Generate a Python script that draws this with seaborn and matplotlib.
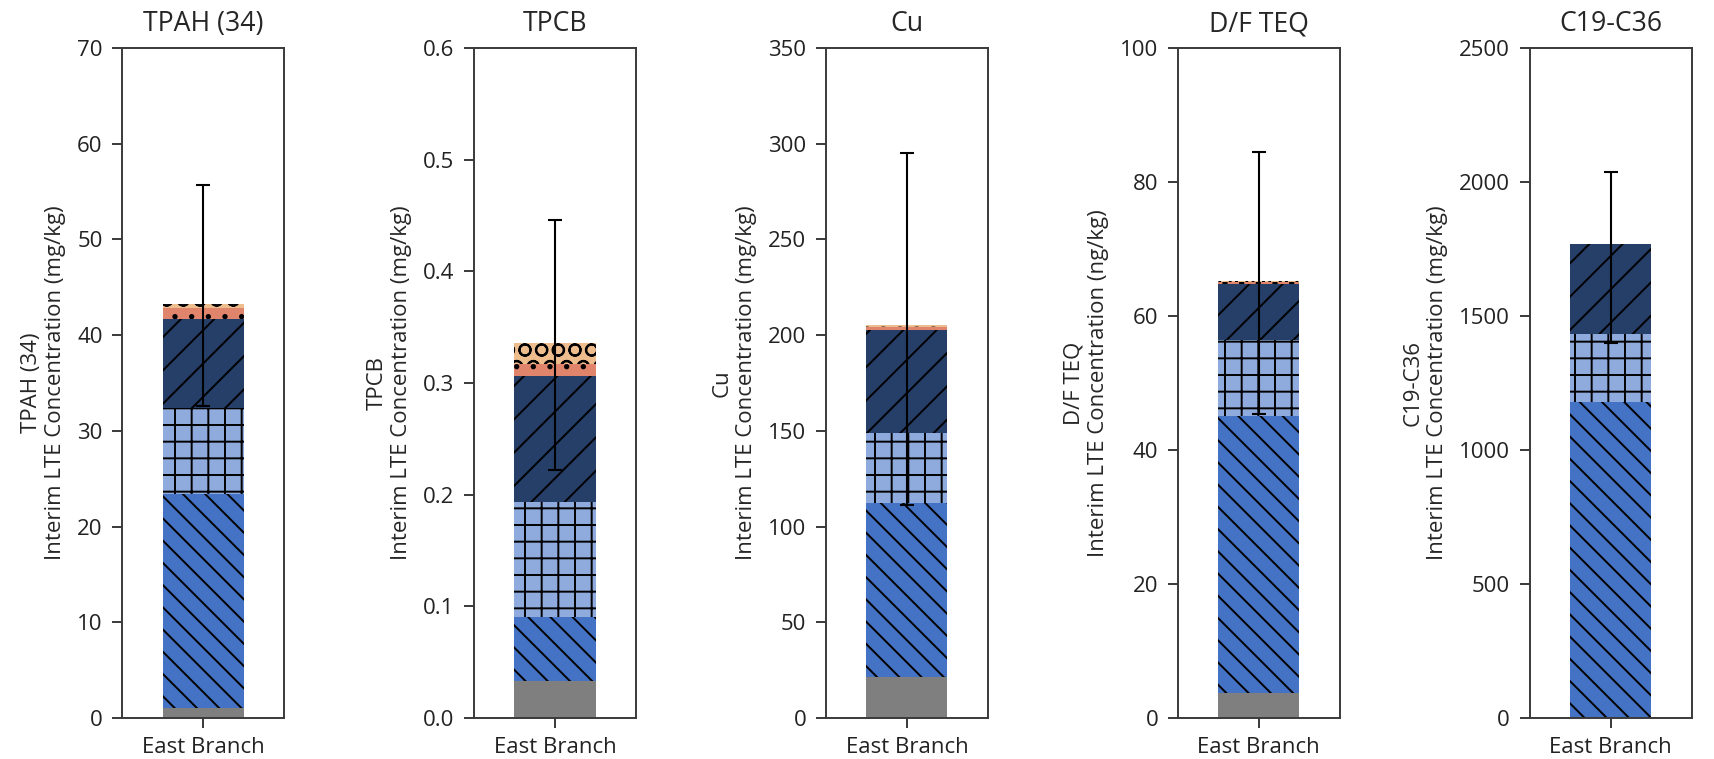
import numpy as np
import matplotlib
matplotlib.use("Agg")
import matplotlib.pyplot as plt
import seaborn as sns

# analytes, one panel each
titles = ["TPAH (34)", "TPCB", "Cu", "D/F TEQ", "C19-C36"]
units = ["mg/kg", "mg/kg", "mg/kg", "ng/kg", "mg/kg"]
y_max = [70, 0.6, 350, 100, 2500]
y_step = [10, 0.1, 50, 20, 500]
category = ["East Branch"]

# stacked segment values (bottom -> top) for each panel
seg_gray = [1.0, 0.033, 21.2, 3.8, 0.0]
seg_blue = [22.4, 0.057, 91.0, 41.3, 1177.0]
seg_light = [9.0, 0.103, 36.5, 11.3, 254.0]
seg_navy = [9.3, 0.113, 54.0, 8.4, 337.0]
seg_salmon = [1.1, 0.011, 1.3, 0.2, 0.0]
seg_tan = [0.4, 0.019, 1.2, 0.2, 0.0]

# error bar bounds
err_low = [32.6, 0.222, 111.0, 45.3, 1398.0]
err_high = [55.7, 0.446, 295.0, 84.5, 2037.0]

segments = [seg_gray, seg_blue, seg_light, seg_navy, seg_salmon, seg_tan]
seg_colors = ["#7f7f7f", "#4472c4", "#8faadc", "#253f69", "#e0846c", "#eebd8e"]
seg_hatches = ["", "\\\\\\", "++", "//", "..", "OO"]

sns.set_theme(style="ticks")
plt.rcParams["font.family"] = ["Open Sans", "DejaVu Sans"]
plt.rcParams["font.size"] = 8
plt.rcParams["hatch.linewidth"] = 0.7
plt.rcParams["axes.edgecolor"] = "#3a3a3a"
plt.rcParams["axes.linewidth"] = 0.7
plt.rcParams["xtick.color"] = "#3a3a3a"
plt.rcParams["ytick.color"] = "#3a3a3a"
plt.rcParams["xtick.labelcolor"] = "#222222"
plt.rcParams["ytick.labelcolor"] = "#222222"

fig, axes = plt.subplots(1, 5, figsize=(8.57, 3.795), dpi=200)
fig.subplots_adjust(left=0.0712, right=0.987, bottom=0.054, top=0.937, wspace=1.17)

for i, ax in enumerate(axes):
    vals = [s[i] for s in segments]
    tops = np.cumsum(vals)
    # draw cumulative bars from the top down so lower segments cover upper ones
    for k in range(len(vals) - 1, -1, -1):
        if vals[k] <= 0:
            continue
        sns.barplot(x=category, y=[tops[k]], ax=ax, width=0.5,
                    color=seg_colors[k], saturation=1, hatch=seg_hatches[k],
                    edgecolor="black", linewidth=0)
    ax.errorbar(0, tops[-1], yerr=[[tops[-1] - err_low[i]], [err_high[i] - tops[-1]]],
                fmt="none", ecolor="black", elinewidth=0.75, capsize=2.4, capthick=0.75)
    ax.set_xlim(-0.5, 0.5)
    ax.set_ylim(0, y_max[i])
    ax.set_yticks(np.arange(0, y_max[i] + y_step[i] / 2, y_step[i]))
    if y_step[i] < 1:
        ax.set_yticklabels([f"{v:.1f}" for v in ax.get_yticks()])
    ax.set_title(titles[i], fontsize=9.6)
    ax.set_ylabel(f"{titles[i]}\nInterim LTE Concentration ({units[i]})", fontsize=8)
    ax.set_xlabel("")
    ax.tick_params(axis="both", labelsize=8, width=0.7, length=3.5)

fig.savefig("out.png", dpi=200)
